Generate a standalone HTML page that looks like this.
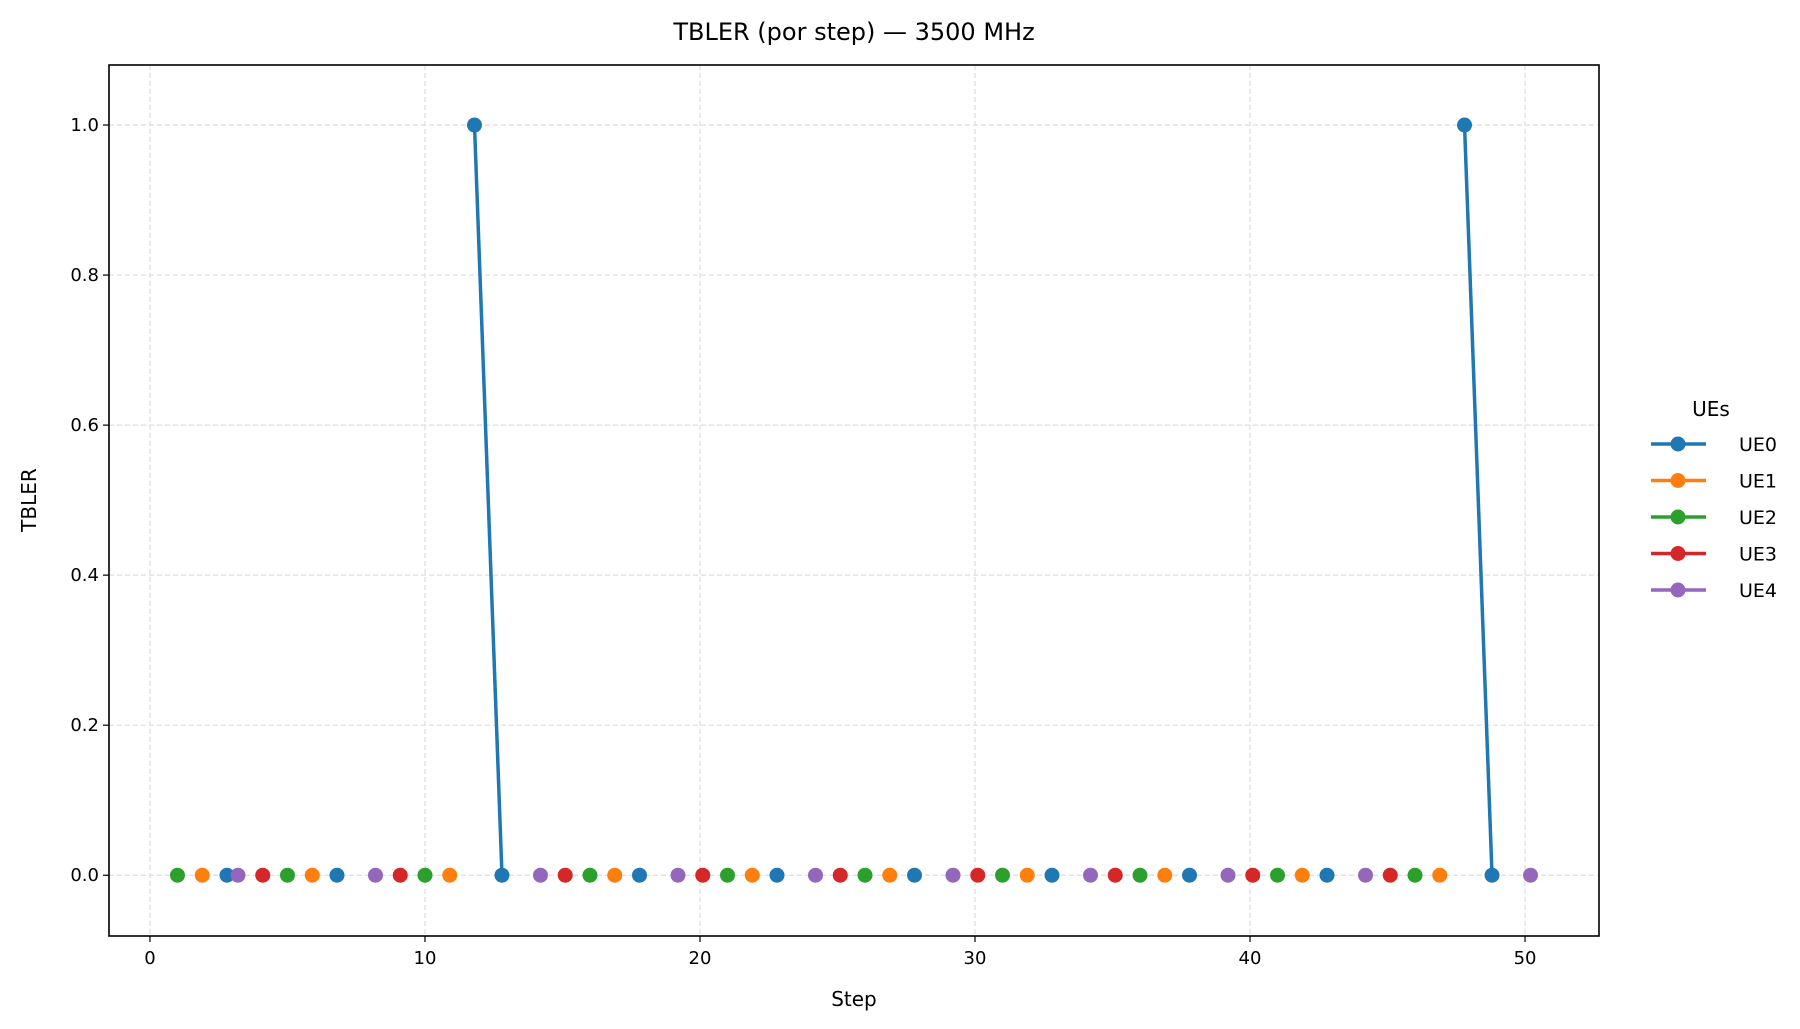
<!DOCTYPE html>
<html><head><meta charset="utf-8"><style>
html,body{margin:0;padding:0;background:#fff;}
svg{display:block;font-family:"DejaVu Sans","Liberation Sans",sans-serif;}
</style></head><body>
<svg id="chart" width="1800" height="1029" viewBox="0 0 1800 1029">
<rect x="0" y="0" width="1800" height="1029" fill="#fff"/>
<text x="854" y="40" font-size="24" text-anchor="middle" fill="#000">TBLER (por step) — 3500 MHz</text>
<g id="grid"></g>
<g id="series"></g>
<rect x="109" y="65" width="1490" height="871" fill="none" stroke="#000" stroke-width="1.6"/>
<g id="ticks"></g>
<text x="854" y="1006" font-size="20" text-anchor="middle">Step</text>
<text x="0" y="0" font-size="20" text-anchor="middle" transform="translate(36,500) rotate(-90)">TBLER</text>
<g id="legend">
<text x="1711" y="416" font-size="20" text-anchor="middle">UEs</text>
</g>
</svg>
<script>
const ueNames = ["UE0","UE1","UE2","UE3","UE4"];
const ueColors = ["#1f77b4","#ff7f0e","#2ca02c","#d62728","#9467bd"];
const ueOffsets = [-0.2,-0.1,0,0.1,0.2];
const ue0Steps = [3,7,12,13,18,23,28,33,38,43,48,49];
const ue0Values = [0,0,1,0,0,0,0,0,0,0,1,0];
const ue1Steps = [2,6,11,17,22,27,32,37,42,47];
const ue1Values = [0,0,0,0,0,0,0,0,0,0];
const ue2Steps = [1,5,10,16,21,26,31,36,41,46];
const ue2Values = [0,0,0,0,0,0,0,0,0,0];
const ue3Steps = [4,9,15,20,25,30,35,40,45];
const ue3Values = [0,0,0,0,0,0,0,0,0];
const ue4Steps = [3,8,14,19,24,29,34,39,44,50];
const ue4Values = [0,0,0,0,0,0,0,0,0,0];
const xTicks = [0,10,20,30,40,50];
const yTicks = [0,0.2,0.4,0.6,0.8,1.0];
const yTickLabels = ["0.0","0.2","0.4","0.6","0.8","1.0"];

const NS="http://www.w3.org/2000/svg";
const X0=109,X1=1599,Y0=65,Y1=936;
const xMin=-1.49,xMax=52.69,yMin=-0.081,yMax=1.08;
function sx(v){return X0+(v-xMin)/(xMax-xMin)*(X1-X0);}
function sy(v){return Y1-(v-yMin)/(yMax-yMin)*(Y1-Y0);}
function mk(tag,attrs,parent){const e=document.createElementNS(NS,tag);for(const k in attrs)e.setAttribute(k,attrs[k]);parent.appendChild(e);return e;}
const grid=document.getElementById('grid'),ticks=document.getElementById('ticks'),series=document.getElementById('series'),legend=document.getElementById('legend');
xTicks.forEach(t=>{
  const g=mk('line',{x1:sx(t),x2:sx(t),y1:Y0,y2:Y1,stroke:'#dddddd','stroke-width':1.2,'stroke-dasharray':'5,3'},grid);
  
  
  const tk=mk('line',{x1:sx(t),x2:sx(t),y1:Y1,y2:Y1+6,stroke:'#000','stroke-width':1.2},ticks);
  
  
  const lb=mk('text',{x:sx(t),y:Y1+28,'font-size':18,'text-anchor':'middle'},ticks);
  lb.textContent=t;
  
  
});
yTicks.forEach((t,i)=>{
  const g=mk('line',{x1:X0,x2:X1,y1:sy(t),y2:sy(t),stroke:'#dddddd','stroke-width':1.2,'stroke-dasharray':'5,3'},grid);
  
  
  const tk=mk('line',{x1:X0-6,x2:X0,y1:sy(t),y2:sy(t),stroke:'#000','stroke-width':1.2},ticks);
  
  
  const lb=mk('text',{x:X0-10,y:sy(t)+6,'font-size':18,'text-anchor':'end'},ticks);
  lb.textContent=yTickLabels[i];
  
  
});
const allSteps=[ue0Steps,ue1Steps,ue2Steps,ue3Steps,ue4Steps];
const allVals=[ue0Values,ue1Values,ue2Values,ue3Values,ue4Values];
allSteps.forEach((steps,u)=>{
  const grp=mk('g',{},series);
  
  
  // line segments only between consecutive steps (gaps elsewhere)
  for(let i=1;i<steps.length;i++){
    if(steps[i]-steps[i-1]===1){
      const ln=mk('line',{x1:sx(steps[i-1]+ueOffsets[u]),y1:sy(allVals[u][i-1]),x2:sx(steps[i]+ueOffsets[u]),y2:sy(allVals[u][i]),stroke:ueColors[u],'stroke-width':3.5,'stroke-linecap':'round'},grp);
      
      
    }
  }
  steps.forEach((s,i)=>{
    const c=mk('circle',{cx:sx(s+ueOffsets[u]),cy:sy(allVals[u][i]),r:7.5,fill:ueColors[u]},grp);
    
    
  });
});
ueNames.forEach((n,i)=>{
  const y=444+i*36.5;
  const g=mk('g',{},legend);
  
  
  mk('line',{x1:1651,x2:1706,y1:y,y2:y,stroke:ueColors[i],'stroke-width':3.5},g);
  mk('circle',{cx:1678,cy:y,r:7.5,fill:ueColors[i]},g);
  const t=mk('text',{x:1739,y:y+7,'font-size':19},g);
  t.textContent=n;
});
</script>
</body></html>
